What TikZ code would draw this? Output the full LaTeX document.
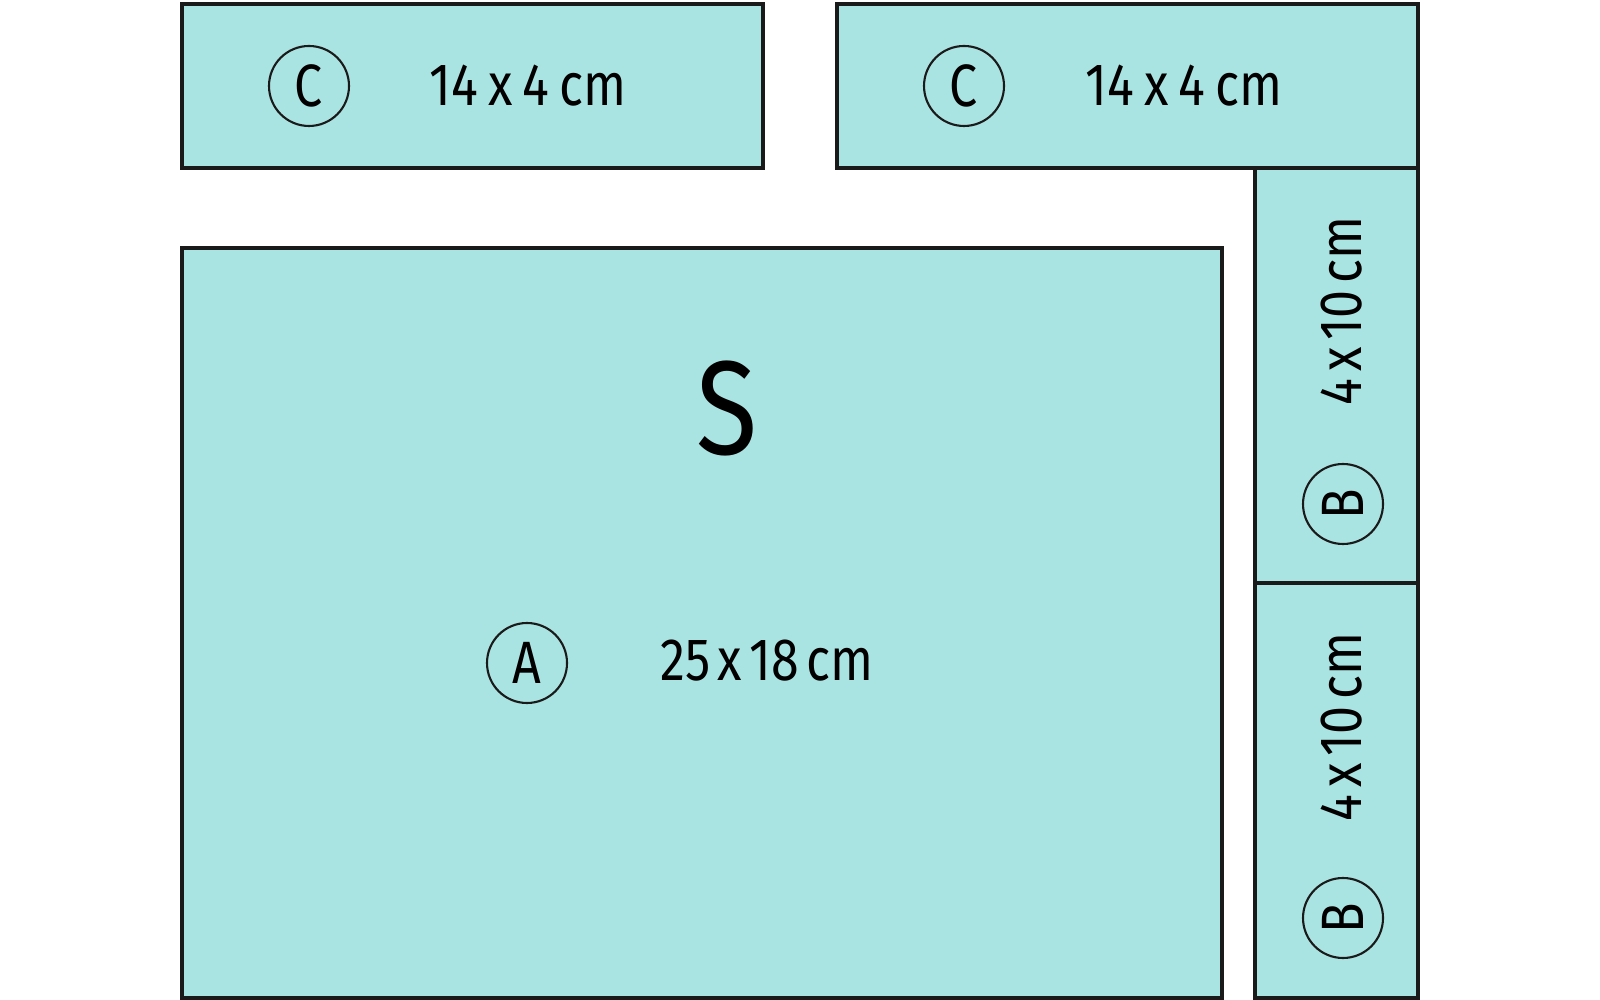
\documentclass[tikz,border=0pt]{standalone}
\usepackage{fontspec}
\setmainfont{Fira Sans}
\newfontfamily\dimsfont[FakeStretch=0.84, WordSpace=0.55]{Fira Sans}
\usepackage{tikz}
\usetikzlibrary{positioning}
\definecolor{panelteal}{HTML}{AAE4E2}
\definecolor{edgedark}{HTML}{1A1A1A}
\tikzset{
  panel/.style={fill=panelteal, draw=edgedark, line width=1.3pt},
  tag/.style={circle, draw=edgedark, line width=0.6pt, minimum size=0.8cm, inner sep=0pt, font=\dimsfont\fontsize{17}{17}\selectfont},
  dims/.style={font=\dimsfont\fontsize{17}{17}\selectfont}
}

\begin{document}
\begin{tikzpicture}
  \useasboundingbox (0,0) rectangle (16,-10);

  % Top strips (C)
  \draw[panel] (1.82,-0.04) rectangle (7.63,-1.68);
  \draw[panel] (8.37,-0.04) rectangle (14.18,-1.68);

  % Base panel (A)
  \draw[panel] (1.82,-2.48) rectangle (12.22,-9.98);

  % Side strips (B)
  \draw[panel] (12.55,-1.68) rectangle (14.18,-5.83);
  \draw[panel] (12.55,-5.83) rectangle (14.18,-9.98);

  % Labels on the top strips
  \node[tag] (tagCleft) at (3.09,-0.86) {C};
  \node[dims] (dimCleft) at (5.28,-0.86) {14\,x\,4\,cm};
  \node[tag] (tagCright) at (9.64,-0.86) {C};
  \node[dims] (dimCright) at (11.84,-0.86) {14\,x\,4\,cm};

  % Labels on the base panel
  \node[font=\dimsfont\fontsize{38}{38}\selectfont] (labelS) at (7.27,-4.08) {S};
  \node[tag] (tagA) at (5.27,-6.63) {A};
  \node[dims] (dimA) at (7.67,-6.61) {25 x 18 cm};

  % Labels on the side strips
  \node[dims, rotate=90] (dimBtop) at (13.42,-3.11) {4 x 10 cm};
  \node[tag, rotate=90] (tagBtop) at (13.43,-5.04) {B};
  \node[dims, rotate=90] (dimBbot) at (13.42,-7.27) {4 x 10 cm};
  \node[tag, rotate=90] (tagBbot) at (13.43,-9.18) {B};
\end{tikzpicture}
\end{document}
